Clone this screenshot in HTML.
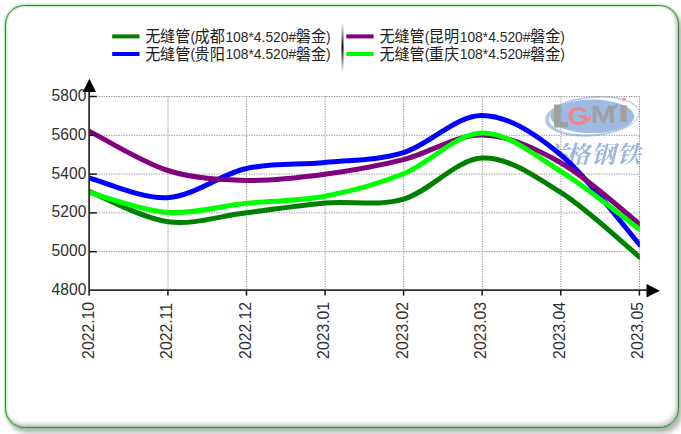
<!DOCTYPE html>
<html><head><meta charset="utf-8"><title>chart</title>
<style>
html,body{margin:0;padding:0;background:#fff}
body{width:681px;height:434px;position:relative;overflow:hidden;font-family:"Liberation Sans",sans-serif}
#frame{position:absolute;left:5.05px;top:4.75px;width:674.3px;height:423.5px;box-sizing:border-box;border:1.7px solid #427f47;border-radius:19.5px;background:#fff;
box-shadow:0 0 2px .6px rgba(115,215,115,.6), 3px 5px 5px rgba(0,0,0,.3), inset 0 0 2.4px rgba(70,160,70,.75), inset -2px -3px 4px rgba(0,0,0,.2)}
svg{position:absolute;left:0;top:0}
</style></head><body>
<div id="frame"></div>
<svg width="681" height="434" viewBox="0 0 681 434">
<defs>
<clipPath id="pc"><rect x="89.2" y="90" width="550.6" height="206"/></clipPath>
<filter id="wb" x="-5%" y="-5%" width="110%" height="110%"><feGaussianBlur stdDeviation="0.45"/></filter>
<linearGradient id="sep" x1="0" y1="0" x2="0" y2="1"><stop offset="0" stop-color="#000" stop-opacity="0"/><stop offset="0.5" stop-color="#000" stop-opacity="1"/><stop offset="1" stop-color="#000" stop-opacity="0"/></linearGradient>
</defs>
<g id="wm" filter="url(#wb)">
<g transform="rotate(-5 592.3 116.3)">
<ellipse cx="592.3" cy="116.3" rx="47.5" ry="20" fill="#afc8e8"/>
<ellipse cx="593.9" cy="116.2" rx="45" ry="18.2" fill="#fff"/>
</g>
<ellipse cx="592.4" cy="116.4" rx="41.9" ry="16.8" fill="#9dbae2"/>
<g font-family="'Liberation Sans', sans-serif" font-weight="bold">
<path fill="#a0a0a0" d="M554,104.6 h6.3 v17.4 h7.7 v5.6 h-14 Z"/>
<text x="567.3" y="125.4" font-size="25.5" fill="#f0848c" textLength="21.5" lengthAdjust="spacingAndGlyphs">G</text>
<path fill="#f0848c" d="M585.5,121.5 L590.6,115 V121.5 Z"/>
<text x="590.6" y="123.4" font-size="23" fill="#a0a0a0" textLength="25.2" lengthAdjust="spacingAndGlyphs">M</text>
<path fill="#a0a0a0" d="M606,110.8 L617.6,103.2 V106.8 L607.5,113.6 Z"/>
<path fill="#a0a0a0" d="M620.3,105.3 h6.3 v16.7 h-6.3 Z"/>
</g>
<circle cx="623.8" cy="99.3" r="1.9" fill="#f29aa0"/>
<text y="163" x="545.5 565.8 591.2 616.8" font-family="'Liberation Serif', 'Noto Serif CJK SC', serif" font-size="24" font-weight="bold" font-style="italic" fill="#9bb7dd">兰格钢铁</text>
</g>
<g stroke="#8e8e8e" stroke-width="1" stroke-dasharray="1.25 1.25" fill="none">
<path d="M96.2,251.7 H639.8"/>
<path d="M96.2,212.9 H639.8"/>
<path d="M96.2,174.1 H639.8"/>
<path d="M96.2,135.3 H639.8"/>
<path d="M96.2,96.5 H639.8"/>
<path d="M168.0,96.0 V290.0"/>
<path d="M246.6,96.0 V290.0"/>
<path d="M325.2,96.0 V290.0"/>
<path d="M403.7,96.0 V290.0"/>
<path d="M482.3,96.0 V290.0"/>
<path d="M560.9,96.0 V290.0"/>
<path d="M639.5,96.0 V290.0"/>
</g>
<g clip-path="url(#pc)" fill="none" stroke-width="5" stroke-linecap="square" stroke-linejoin="round">
<path stroke="#008000" d="M89.20,191.45 C102.30,196.49 141.59,218.16 167.79,221.71 C193.98,225.27 220.18,215.92 246.37,212.79 C272.56,209.65 298.76,205.16 324.96,202.89 C351.15,200.63 377.35,206.68 403.54,199.21 C429.74,191.74 455.94,159.21 482.13,158.08 C508.32,156.95 534.52,175.96 560.71,192.42 C586.91,208.87 626.20,246.09 639.30,256.83"/>
<path stroke="#0000ff" d="M89.20,177.87 C102.30,181.17 141.59,199.21 167.79,197.66 C193.98,196.10 220.18,174.41 246.37,168.56 C272.56,162.70 298.76,165.19 324.96,162.54 C351.15,159.89 377.35,160.50 403.54,152.65 C429.74,144.79 455.94,115.04 482.13,115.40 C508.32,115.76 534.52,133.31 560.71,154.78 C586.91,176.25 626.20,229.31 639.30,244.22"/>
<path stroke="#800080" d="M89.20,131.11 C102.30,137.68 141.59,162.28 167.79,170.50 C193.98,178.71 220.18,179.78 246.37,180.39 C272.56,181.00 298.76,177.64 324.96,174.18 C351.15,170.72 377.35,166.16 403.54,159.63 C429.74,153.10 455.94,134.48 482.13,134.99 C508.32,135.51 534.52,147.93 560.71,162.74 C586.91,177.54 626.20,213.66 639.30,223.85"/>
<path stroke="#00ff00" d="M89.20,192.42 C102.30,195.75 141.59,210.59 167.79,212.40 C193.98,214.21 220.18,205.97 246.37,203.28 C272.56,200.60 298.76,201.21 324.96,196.30 C351.15,191.38 377.35,184.33 403.54,173.79 C429.74,163.25 455.94,133.47 482.13,133.05 C508.32,132.63 534.52,155.27 560.71,171.27 C586.91,187.28 626.20,219.45 639.30,229.08"/>
</g>
<g stroke="#2e2e2e" stroke-width="1.8" fill="none">
<path d="M89.15,90 V295.6"/>
<path d="M89,290.05 H648"/>
</g>
<g stroke="#141414" stroke-width="1.5" fill="none">
<path d="M89.5,251.7 H96.8"/>
<path d="M89.5,212.9 H96.8"/>
<path d="M89.5,174.1 H96.8"/>
<path d="M89.5,135.3 H96.8"/>
<path d="M89.5,96.5 H96.8"/>
<path d="M167.9,290 V295.6"/>
<path d="M246.5,290 V295.6"/>
<path d="M325.1,290 V295.6"/>
<path d="M403.6,290 V295.6"/>
<path d="M482.2,290 V295.6"/>
<path d="M560.8,290 V295.6"/>
<path d="M639.4,290 V295.6"/>
</g>
<path fill="#000" d="M89.4,78.8 L96.1,92.1 H82.7 Z"/>
<path fill="#000" d="M659.8,290.7 L646.5,297.4 V284.0 Z"/>
<g font-family="'Liberation Sans', sans-serif" font-size="15.60" fill="#303030">
<text transform="translate(86.3,295.0) scale(1,1.05)" text-anchor="end">4800</text>
<text transform="translate(86.3,256.2) scale(1,1.05)" text-anchor="end">5000</text>
<text transform="translate(86.3,217.4) scale(1,1.05)" text-anchor="end">5200</text>
<text transform="translate(86.3,178.6) scale(1,1.05)" text-anchor="end">5400</text>
<text transform="translate(86.3,139.8) scale(1,1.05)" text-anchor="end">5600</text>
<text transform="translate(86.3,101.0) scale(1,1.05)" text-anchor="end">5800</text>
<text transform="translate(93.8,358.9) rotate(-90) scale(1.012,1)">2022.10</text>
<text transform="translate(172.3,358.9) rotate(-90) scale(1.012,1)">2022.11</text>
<text transform="translate(250.8,358.9) rotate(-90) scale(1.012,1)">2022.12</text>
<text transform="translate(329.3,358.9) rotate(-90) scale(1.012,1)">2023.01</text>
<text transform="translate(407.7,358.9) rotate(-90) scale(1.012,1)">2023.02</text>
<text transform="translate(486.2,358.9) rotate(-90) scale(1.012,1)">2023.03</text>
<text transform="translate(564.7,358.9) rotate(-90) scale(1.012,1)">2023.04</text>
<text transform="translate(643.2,358.9) rotate(-90) scale(1.012,1)">2023.05</text>
</g>
<g font-family="'Liberation Sans', 'Noto Sans CJK SC', sans-serif" fill="#1c1c1c">
<rect x="112.2" y="34.4" width="27.3" height="4" fill="#008000"/>
<text transform="translate(145.20,42.05) scale(1,1.05)" font-size="15.15" x="0 14.9 30">无缝管</text>
<text transform="translate(190.50,41.80) scale(1,1.05)" font-size="14.4" fill="#2a2a2a" textLength="4.60" lengthAdjust="spacingAndGlyphs">(</text>
<text transform="translate(194.40,42.05) scale(1,1.05)" font-size="15.15" x="0 15.4">成都</text>
<text transform="translate(225.40,41.80) scale(1,1.05)" font-size="14.4" fill="#2a2a2a" textLength="70.80" lengthAdjust="spacingAndGlyphs">108*4.520#</text>
<text transform="translate(295.80,42.05) scale(1,1.05)" font-size="15.15" x="0 15.2">磐金</text>
<text transform="translate(326.00,41.80) scale(1,1.05)" font-size="14.4" fill="#2a2a2a" textLength="4.60" lengthAdjust="spacingAndGlyphs">)</text>
<rect x="112.2" y="52.0" width="27.3" height="4" fill="#0000ff"/>
<text transform="translate(145.20,59.65) scale(1,1.05)" font-size="15.15" x="0 14.9 30">无缝管</text>
<text transform="translate(190.50,59.40) scale(1,1.05)" font-size="14.4" fill="#2a2a2a" textLength="4.60" lengthAdjust="spacingAndGlyphs">(</text>
<text transform="translate(194.40,59.65) scale(1,1.05)" font-size="15.15" x="0 15.4">贵阳</text>
<text transform="translate(225.40,59.40) scale(1,1.05)" font-size="14.4" fill="#2a2a2a" textLength="70.80" lengthAdjust="spacingAndGlyphs">108*4.520#</text>
<text transform="translate(295.80,59.65) scale(1,1.05)" font-size="15.15" x="0 15.2">磐金</text>
<text transform="translate(326.00,59.40) scale(1,1.05)" font-size="14.4" fill="#2a2a2a" textLength="4.60" lengthAdjust="spacingAndGlyphs">)</text>
<rect x="346.3" y="34.4" width="27.3" height="4" fill="#800080"/>
<text transform="translate(379.50,42.05) scale(1,1.05)" font-size="15.15" x="0 14.9 30">无缝管</text>
<text transform="translate(424.80,41.80) scale(1,1.05)" font-size="14.4" fill="#2a2a2a" textLength="4.60" lengthAdjust="spacingAndGlyphs">(</text>
<text transform="translate(428.70,42.05) scale(1,1.05)" font-size="15.15" x="0 15.4">昆明</text>
<text transform="translate(459.70,41.80) scale(1,1.05)" font-size="14.4" fill="#2a2a2a" textLength="70.80" lengthAdjust="spacingAndGlyphs">108*4.520#</text>
<text transform="translate(530.10,42.05) scale(1,1.05)" font-size="15.15" x="0 15.2">磐金</text>
<text transform="translate(560.30,41.80) scale(1,1.05)" font-size="14.4" fill="#2a2a2a" textLength="4.60" lengthAdjust="spacingAndGlyphs">)</text>
<rect x="346.3" y="52.0" width="27.3" height="4" fill="#00ff00"/>
<text transform="translate(379.50,59.65) scale(1,1.05)" font-size="15.15" x="0 14.9 30">无缝管</text>
<text transform="translate(424.80,59.40) scale(1,1.05)" font-size="14.4" fill="#2a2a2a" textLength="4.60" lengthAdjust="spacingAndGlyphs">(</text>
<text transform="translate(428.70,59.65) scale(1,1.05)" font-size="15.15" x="0 15.4">重庆</text>
<text transform="translate(459.70,59.40) scale(1,1.05)" font-size="14.4" fill="#2a2a2a" textLength="70.80" lengthAdjust="spacingAndGlyphs">108*4.520#</text>
<text transform="translate(530.10,59.65) scale(1,1.05)" font-size="15.15" x="0 15.2">磐金</text>
<text transform="translate(560.30,59.40) scale(1,1.05)" font-size="14.4" fill="#2a2a2a" textLength="4.60" lengthAdjust="spacingAndGlyphs">)</text>
</g>
<rect x="341.5" y="23" width="2" height="49" fill="url(#sep)"/>
</svg>
</body></html>
